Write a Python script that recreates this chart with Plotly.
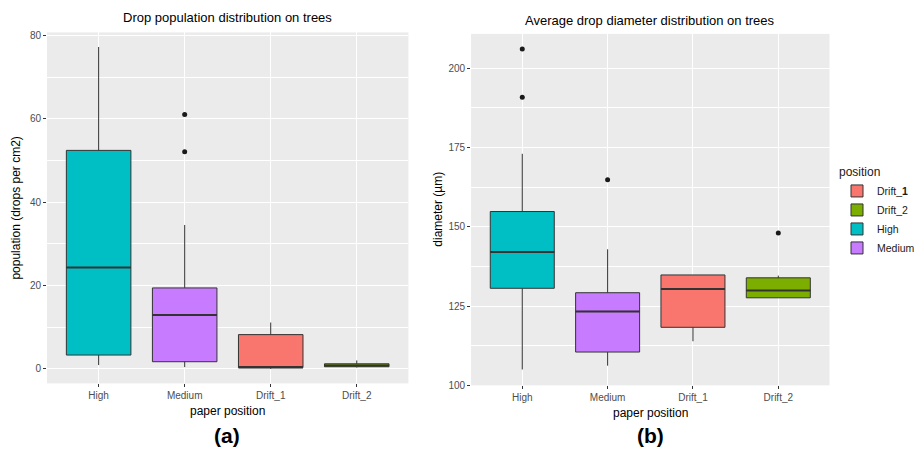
import plotly.graph_objects as go

categories = ["High", "Medium", "Drift_1", "Drift_2"]
colors = {"High": "#00BFC4", "Medium": "#C77CFF", "Drift_1": "#F8766D", "Drift_2": "#7CAE00"}

# Panel (a): population (drops per cm2)
pop_q1 = [3.3, 1.7, 0.3, 0.5]
pop_median = [24.3, 12.9, 0.3, 0.8]
pop_q3 = [52.4, 19.4, 8.2, 1.2]
pop_low = [0.9, 0.4, 0.0, 0.3]
pop_high = [77.2, 34.5, 11.1, 2.0]
pop_out_cat = ["Medium", "Medium"]
pop_out_val = [61.0, 52.1]

# Panel (b): diameter (um)
dia_q1 = [130.6, 110.5, 118.3, 127.6]
dia_median = [142.0, 123.3, 130.4, 129.9]
dia_q3 = [154.8, 129.2, 134.8, 133.9]
dia_low = [105.0, 106.2, 113.9, 127.6]
dia_high = [173.0, 142.9, 134.8, 134.6]
dia_out_cat = ["High", "High", "Medium", "Drift_2"]
dia_out_val = [206.0, 190.8, 164.8, 148.0]

legend_order = ["Drift_1", "Drift_2", "High", "Medium"]
legend_names = {"Drift_1": "Drift_<b>1</b>", "Drift_2": "Drift_2", "High": "High", "Medium": "Medium"}

FONT = "Liberation Sans, Arial, sans-serif"
BOXW = 0.75
fig = go.Figure()

def add_panel(xa, ya, q1, med, q3, lo, hi, out_cat, out_val, showlegend):
    for i, c in enumerate(categories):
        fig.add_trace(go.Box(
            x=[i], q1=[q1[i]], median=[med[i]], q3=[q3[i]],
            lowerfence=[lo[i]], upperfence=[hi[i]],
            width=BOXW, whiskerwidth=0, boxpoints=False,
            fillcolor=colors[c], line=dict(color="#333333", width=1),
            name=legend_names[c], legendrank=legend_order.index(c) + 1,
            showlegend=showlegend, xaxis=xa, yaxis=ya, hoverinfo="skip"))
        fig.add_trace(go.Scatter(
            x=[i - BOXW / 2, i + BOXW / 2], y=[med[i], med[i]], mode="lines",
            line=dict(color="#333333", width=2), showlegend=False,
            xaxis=xa, yaxis=ya, hoverinfo="skip"))
    fig.add_trace(go.Scatter(
        x=[categories.index(c) for c in out_cat], y=out_val, mode="markers",
        marker=dict(color="#1a1a1a", size=5), showlegend=False,
        xaxis=xa, yaxis=ya, hoverinfo="skip"))

add_panel("x", "y", pop_q1, pop_median, pop_q3, pop_low, pop_high, pop_out_cat, pop_out_val, False)
add_panel("x2", "y2", dia_q1, dia_median, dia_q3, dia_low, dia_high, dia_out_cat, dia_out_val, True)

H = 459.0
axis_common = dict(
    showgrid=True, gridcolor="white", gridwidth=1.1, zeroline=False,
    ticks="outside", ticklen=3, tickcolor="#333333", tickwidth=1,
    tickfont=dict(family=FONT, size=10, color="#4D4D4D"), showline=False)

fig.update_layout(
    width=920, height=459, margin=dict(l=0, r=0, t=0, b=0),
    paper_bgcolor="white", plot_bgcolor="#EBEBEB",
    font=dict(family=FONT),
    xaxis=dict(domain=[48 / 920, 417 / 920], range=[-0.6, 3.6],
               tickvals=list(range(len(categories))), ticktext=categories,
               anchor="y", **axis_common),
    yaxis=dict(domain=[1 - 388 / H, 1 - 30 / H], range=[-3.5, 80.7],
               tickvals=[0, 20, 40, 60, 80],
               minor=dict(showgrid=True, gridcolor="white", gridwidth=0.5,
                          tickvals=[10, 30, 50, 70], ticks=""),
               anchor="x", **axis_common),
    xaxis2=dict(domain=[481 / 920, 847 / 920], range=[-0.6, 3.6],
                tickvals=list(range(len(categories))), ticktext=categories,
                anchor="y2", **axis_common),
    yaxis2=dict(domain=[1 - 390 / H, 1 - 31.5 / H], range=[100, 210.8],
                tickvals=[100, 125, 150, 175, 200],
                minor=dict(showgrid=True, gridcolor="white", gridwidth=0.5,
                           tickvals=[112.5, 137.5, 162.5, 187.5], ticks=""),
                anchor="x2", **axis_common),
    legend=dict(x=855 / 920, y=1 - 161 / H, xanchor="left", yanchor="top",
                title=dict(text="position", font=dict(size=12, color="#1a1a1a")),
                font=dict(size=10.5, color="#1a1a1a"), tracegroupgap=0,
                itemwidth=30, bgcolor="rgba(0,0,0,0)"),
    showlegend=True,
)

ann = [
    dict(text="Drop population distribution on trees", x=232 / 920, y=1 - 15 / H, size=13),
    dict(text="Average drop diameter distribution on trees", x=664 / 920, y=1 - 18 / H, size=13),
    dict(text="paper position", x=232 / 920, y=1 - 416 / H, size=12),
    dict(text="paper position", x=664 / 920, y=1 - 418 / H, size=12),
    dict(text="<b>(a)</b>", x=232 / 920, y=1 - 441 / H, size=21),
    dict(text="<b>(b)</b>", x=664 / 920, y=1 - 441 / H, size=21),
]
for a in ann:
    fig.add_annotation(text=a["text"], x=a["x"], y=a["y"], xref="paper", yref="paper",
                       showarrow=False, xanchor="center", yanchor="middle",
                       font=dict(family=FONT, size=a["size"], color="black"))

fig.add_annotation(text="population (drops per cm2)", x=16 / 920, y=1 - 209 / H,
                   xref="paper", yref="paper", showarrow=False, textangle=-90,
                   xanchor="center", yanchor="middle",
                   font=dict(family=FONT, size=12, color="black"))
fig.add_annotation(text="diameter (µm)", x=447 / 920, y=1 - 210 / H,
                   xref="paper", yref="paper", showarrow=False, textangle=-90,
                   xanchor="center", yanchor="middle",
                   font=dict(family=FONT, size=12, color="black"))

fig.write_html("out.html")
